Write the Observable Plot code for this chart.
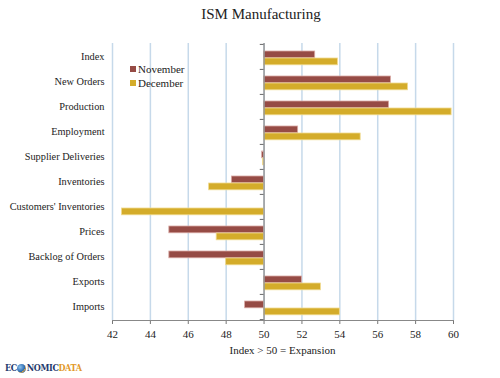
<!DOCTYPE html>
<html>
<head>
<meta charset="utf-8">
<script src="https://cdn.jsdelivr.net/npm/d3@7"></script>
<script src="https://cdn.jsdelivr.net/npm/@observablehq/plot@0.6"></script>
<style>
  body { margin: 0; background: #fff; font-family: "Liberation Serif", "DejaVu Serif", serif; }
  #wrap { position: relative; width: 500px; height: 378px; overflow: hidden; }
  #title { height: 30px; line-height: 28px; text-align: center; font-size: 15px; color: #222; padding-left: 22px; box-sizing: border-box; font-family: "Liberation Serif", serif; }
  #chart svg, #chart svg text { font-family: "Liberation Serif", "DejaVu Serif", serif !important; }
  #caption { position: absolute; top: 344px; left: 112px; width: 341px; text-align: center; font-size: 11px; color: #222; font-family: "Liberation Serif", serif; }
  #legend { position: absolute; left: 130px; top: 62px; font-size: 11px; color: #222; font-family: "Liberation Serif", serif; }
  #legend div { display: flex; align-items: center; height: 14px; }
  #legend span.sw { display: inline-block; width: 6px; height: 6px; margin-right: 2px; }
  #logo { position: absolute; left: 5px; top: 363px; font-family: "DejaVu Serif Condensed", "DejaVu Serif", serif; font-weight: bold; font-size: 9px; letter-spacing: -0.4px; color: #1f3a6e; display: flex; align-items: center; }
  #logo .globe { display: inline-block; width: 9px; height: 9px; border-radius: 50%; background: radial-gradient(circle at 35% 35%, #8fc3ea, #2a68b0 55%, #e0a234 60%, #2a68b0 78%); margin: 0 0.5px; }
  #logo .data { color: #e39a2c; }
</style>
</head>
<body>
<div id="wrap">
  <div id="title">ISM Manufacturing</div>
  <div id="chart"></div>
  <div id="legend"></div>
  <div id="caption">Index &gt; 50 = Expansion</div>
  <div id="logo"><span>EC</span><span class="globe"></span><span>NOMIC</span><span class="data">DATA</span></div>
</div>
<script>
const categories = ["Index", "New Orders", "Production", "Employment", "Supplier Deliveries", "Inventories", "Customers' Inventories", "Prices", "Backlog of Orders", "Exports", "Imports"];
const november = [52.7, 56.7, 56.6, 51.8, 49.9, 48.3, null, 45.0, 45.0, 52.0, 49.0];
const december = [53.9, 57.6, 59.9, 55.1, 49.95, 47.1, 42.5, 47.5, 48.0, 53.0, 54.0];
const xTicks = [42, 44, 46, 48, 50, 52, 54, 56, 58, 60];
const seriesNames = ["November", "December"];
const colors = ["#964b45", "#d4ac2a"];
const strokes = ["#d9a9a4", "#f0da8e"];

const nov = categories.map((c, i) => ({category: c, value: november[i]})).filter(d => d.value != null);
const dec = categories.map((c, i) => ({category: c, value: december[i]})).filter(d => d.value != null);

const chart = Plot.plot({
  width: 500,
  height: 310,
  marginTop: 13,
  marginBottom: 20,
  marginLeft: 112,
  marginRight: 47,
  style: {fontSize: "11px", color: "#222", background: "transparent"},
  x: {domain: [42, 60], ticks: xTicks},
  y: {domain: categories, padding: 0},
  marks: [
    Plot.gridX(xTicks, {stroke: "#c6d9ea", strokeOpacity: 1, strokeWidth: 1.5}),
    Plot.barX(nov, {x1: 50, x2: "value", y: "category", fill: colors[0], stroke: strokes[0], strokeWidth: 0.8, insetTop: 7, insetBottom: 11.2}),
    Plot.barX(dec, {x1: 50, x2: "value", y: "category", fill: colors[1], stroke: strokes[1], strokeWidth: 0.8, insetTop: 14, insetBottom: 4.2}),
    Plot.ruleX([50], {stroke: "#999", strokeWidth: 1.5}),
    Plot.ruleY(categories, {y: d => d, x1: 49.8, x2: 50, dy: -12.6, stroke: "#666"}),
    Plot.ruleY([categories[categories.length - 1]], {y: d => d, x1: 49.8, x2: 50, dy: 12.6, stroke: "#666"}),
    Plot.axisY({tickSize: 0, tickPadding: 8, label: null, fontSize: 10.3}),
    Plot.axisX(xTicks, {tickSize: 4, stroke: "#777", tickPadding: 6, label: null, tickFormat: d => d}),
    Plot.frame({anchor: "bottom", stroke: "#888"})
  ]
});
document.getElementById("chart").appendChild(chart);

const legend = document.getElementById("legend");
seriesNames.forEach((s, i) => {
  const row = document.createElement("div");
  row.innerHTML = `<span class="sw" style="background:${colors[i]}"></span>${s}`;
  legend.appendChild(row);
});
</script>
</body>
</html>
